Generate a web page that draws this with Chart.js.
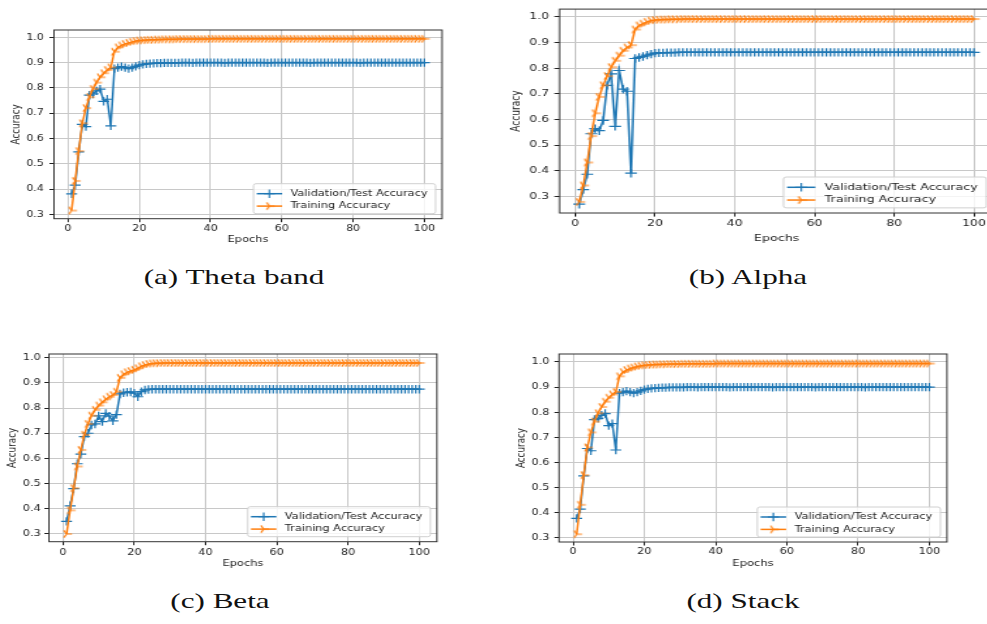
<!DOCTYPE html>
<html>
<head>
<meta charset="utf-8">
<script src="https://cdn.jsdelivr.net/npm/chart.js@4.4.1/dist/chart.umd.min.js"></script>
<style>
  html, body { margin: 0; padding: 0; background: #fff; }
  body { width: 987px; height: 624px; overflow: hidden; position: relative; }
  .panel { position: absolute; }
  .panel canvas { display: block; transform-origin: 0 0; }
  .cap {
    position: absolute; width: 300px; text-align: center; white-space: nowrap;
    font-family: "Liberation Serif", serif; font-size: 21px; line-height: 24px;
    color: #111; transform: scaleX(1.48);
  }
</style>
</head>
<body>
<div class="panel" style="left:0px;top:0px"><canvas id="theta" width="355" height="250"></canvas></div>
<div class="panel" style="left:500px;top:0px"><canvas id="alpha" width="365" height="250"></canvas></div>
<div class="panel" style="left:0px;top:324px"><canvas id="beta" width="350" height="250"></canvas></div>
<div class="panel" style="left:505px;top:324px"><canvas id="stack" width="352" height="250"></canvas></div>

<div class="cap" style="left:84px;top:265px">(a) Theta band</div>
<div class="cap" style="left:598px;top:265px">(b) Alpha</div>
<div class="cap" style="left:70px;top:589px">(c) Beta</div>
<div class="cap" style="left:593px;top:589px">(d) Stack</div>

<script>
// epochs 1..100
const epochs = Array.from({ length: 100 }, (_, i) => i + 1);
const xTicks = [0, 20, 40, 60, 80, 100];
const yTicks = [0.3, 0.4, 0.5, 0.6, 0.7, 0.8, 0.9, 1.0];
const seriesNames = ["Validation/Test Accuracy", "Training Accuracy"];

const thetaVal = [
  0.381, 0.415, 0.547, 0.656, 0.647, 0.771, 0.776, 0.788, 0.795, 0.747,
  0.755, 0.650, 0.876, 0.880, 0.884, 0.880, 0.876, 0.880, 0.885, 0.890,
  0.893, 0.895, 0.896, 0.897, 0.898, 0.898, 0.899, 0.899, 0.899, 0.899,
  0.899, 0.900, 0.900, 0.900, 0.899, 0.900, 0.900, 0.900, 0.900, 0.900,
  0.900, 0.900, 0.900, 0.899, 0.900, 0.900, 0.900, 0.900, 0.900, 0.900,
  0.900, 0.900, 0.900, 0.900, 0.900, 0.899, 0.900, 0.900, 0.900, 0.900,
  0.900, 0.900, 0.900, 0.900, 0.900, 0.900, 0.900, 0.899, 0.900, 0.900,
  0.900, 0.900, 0.900, 0.900, 0.900, 0.900, 0.900, 0.900, 0.900, 0.900,
  0.900, 0.899, 0.900, 0.900, 0.900, 0.900, 0.900, 0.900, 0.900, 0.900,
  0.900, 0.900, 0.900, 0.900, 0.900, 0.900, 0.900, 0.900, 0.900, 0.900
];
const thetaTrain = [
  0.315, 0.432, 0.550, 0.660, 0.720, 0.763, 0.796, 0.821, 0.842, 0.858,
  0.871, 0.881, 0.943, 0.960, 0.968, 0.974, 0.978, 0.982, 0.985, 0.987,
  0.988, 0.989, 0.990, 0.990, 0.991, 0.991, 0.992, 0.992, 0.992, 0.992,
  0.993, 0.993, 0.993, 0.993, 0.993, 0.993, 0.993, 0.993, 0.993, 0.994,
  0.994, 0.994, 0.994, 0.994, 0.994, 0.994, 0.994, 0.994, 0.994, 0.994,
  0.994, 0.994, 0.994, 0.994, 0.994, 0.994, 0.994, 0.994, 0.994, 0.994,
  0.994, 0.994, 0.994, 0.994, 0.994, 0.994, 0.994, 0.994, 0.994, 0.994,
  0.994, 0.994, 0.994, 0.994, 0.994, 0.994, 0.994, 0.994, 0.994, 0.994,
  0.994, 0.994, 0.994, 0.994, 0.994, 0.994, 0.994, 0.994, 0.994, 0.994,
  0.994, 0.994, 0.994, 0.994, 0.994, 0.994, 0.994, 0.994, 0.994, 0.994
];

const alphaVal = [
  0.269, 0.326, 0.386, 0.544, 0.564, 0.556, 0.596, 0.733, 0.778, 0.573,
  0.791, 0.718, 0.710, 0.390, 0.838, 0.842, 0.846, 0.851, 0.855, 0.859,
  0.860, 0.860, 0.861, 0.861, 0.861, 0.862, 0.862, 0.862, 0.862, 0.862,
  0.862, 0.862, 0.862, 0.862, 0.862, 0.862, 0.862, 0.862, 0.862, 0.862,
  0.862, 0.862, 0.862, 0.862, 0.862, 0.862, 0.862, 0.862, 0.862, 0.862,
  0.862, 0.862, 0.862, 0.862, 0.862, 0.862, 0.862, 0.862, 0.862, 0.862,
  0.862, 0.862, 0.862, 0.862, 0.862, 0.862, 0.862, 0.862, 0.862, 0.862,
  0.862, 0.862, 0.862, 0.862, 0.862, 0.862, 0.862, 0.862, 0.862, 0.862,
  0.862, 0.862, 0.862, 0.862, 0.862, 0.862, 0.862, 0.862, 0.862, 0.862,
  0.862, 0.862, 0.862, 0.862, 0.862, 0.862, 0.862, 0.862, 0.862, 0.862
];
const alphaTrain = [
  0.278, 0.342, 0.432, 0.535, 0.624, 0.688, 0.733, 0.769, 0.804, 0.829,
  0.849, 0.868, 0.881, 0.890, 0.951, 0.967, 0.974, 0.981, 0.986, 0.988,
  0.989, 0.990, 0.990, 0.991, 0.991, 0.991, 0.992, 0.992, 0.992, 0.992,
  0.992, 0.992, 0.992, 0.992, 0.992, 0.992, 0.992, 0.992, 0.992, 0.992,
  0.992, 0.992, 0.992, 0.992, 0.992, 0.992, 0.992, 0.992, 0.992, 0.992,
  0.992, 0.992, 0.992, 0.992, 0.992, 0.992, 0.992, 0.992, 0.992, 0.992,
  0.992, 0.992, 0.992, 0.992, 0.992, 0.992, 0.992, 0.992, 0.992, 0.992,
  0.992, 0.992, 0.992, 0.992, 0.992, 0.992, 0.992, 0.992, 0.992, 0.992,
  0.992, 0.992, 0.992, 0.992, 0.992, 0.992, 0.992, 0.992, 0.992, 0.992,
  0.992, 0.992, 0.992, 0.992, 0.992, 0.992, 0.992, 0.992, 0.992, 0.992
];

const betaVal = [
  0.350, 0.412, 0.480, 0.579, 0.617, 0.687, 0.700, 0.733, 0.737, 0.769,
  0.746, 0.779, 0.768, 0.749, 0.774, 0.856, 0.861, 0.863, 0.864, 0.859,
  0.845, 0.865, 0.872, 0.874, 0.875, 0.875, 0.875, 0.875, 0.875, 0.875,
  0.875, 0.875, 0.875, 0.875, 0.875, 0.875, 0.875, 0.875, 0.875, 0.875,
  0.875, 0.875, 0.875, 0.875, 0.875, 0.875, 0.875, 0.875, 0.875, 0.875,
  0.875, 0.875, 0.875, 0.875, 0.875, 0.875, 0.875, 0.875, 0.875, 0.875,
  0.875, 0.875, 0.875, 0.875, 0.875, 0.875, 0.875, 0.875, 0.875, 0.875,
  0.875, 0.875, 0.875, 0.875, 0.875, 0.875, 0.875, 0.875, 0.875, 0.875,
  0.875, 0.875, 0.875, 0.875, 0.875, 0.875, 0.875, 0.875, 0.875, 0.875,
  0.875, 0.875, 0.875, 0.875, 0.875, 0.875, 0.875, 0.875, 0.875, 0.875
];
const betaTrain = [
  0.300, 0.394, 0.482, 0.568, 0.634, 0.694, 0.737, 0.770, 0.793, 0.810,
  0.823, 0.835, 0.845, 0.852, 0.865, 0.920, 0.934, 0.942, 0.947, 0.952,
  0.958, 0.966, 0.971, 0.975, 0.977, 0.978, 0.978, 0.979, 0.979, 0.979,
  0.979, 0.979, 0.979, 0.979, 0.979, 0.979, 0.979, 0.979, 0.979, 0.979,
  0.979, 0.979, 0.979, 0.979, 0.979, 0.979, 0.979, 0.979, 0.979, 0.979,
  0.979, 0.979, 0.979, 0.979, 0.979, 0.979, 0.979, 0.979, 0.979, 0.979,
  0.979, 0.979, 0.979, 0.979, 0.979, 0.979, 0.979, 0.979, 0.979, 0.979,
  0.979, 0.979, 0.979, 0.979, 0.979, 0.979, 0.979, 0.979, 0.979, 0.979,
  0.979, 0.979, 0.979, 0.979, 0.979, 0.979, 0.979, 0.979, 0.979, 0.979,
  0.979, 0.979, 0.979, 0.979, 0.979, 0.979, 0.979, 0.979, 0.979, 0.979
];

const stackVal = [
  0.378, 0.415, 0.547, 0.656, 0.647, 0.771, 0.776, 0.788, 0.795, 0.747,
  0.755, 0.650, 0.876, 0.880, 0.884, 0.880, 0.876, 0.880, 0.885, 0.890,
  0.893, 0.895, 0.896, 0.897, 0.898, 0.898, 0.899, 0.899, 0.899, 0.899,
  0.899, 0.900, 0.900, 0.900, 0.899, 0.900, 0.900, 0.900, 0.900, 0.900,
  0.900, 0.900, 0.900, 0.899, 0.900, 0.900, 0.900, 0.900, 0.900, 0.900,
  0.900, 0.900, 0.900, 0.900, 0.900, 0.899, 0.900, 0.900, 0.900, 0.900,
  0.900, 0.900, 0.900, 0.900, 0.900, 0.900, 0.900, 0.899, 0.900, 0.900,
  0.900, 0.900, 0.900, 0.900, 0.900, 0.900, 0.900, 0.900, 0.900, 0.900,
  0.900, 0.899, 0.900, 0.900, 0.900, 0.900, 0.900, 0.900, 0.900, 0.900,
  0.900, 0.900, 0.900, 0.900, 0.900, 0.900, 0.900, 0.900, 0.900, 0.900
];
const stackTrain = [
  0.315, 0.432, 0.550, 0.660, 0.720, 0.763, 0.796, 0.821, 0.842, 0.858,
  0.871, 0.881, 0.943, 0.960, 0.968, 0.974, 0.978, 0.982, 0.985, 0.987,
  0.988, 0.989, 0.990, 0.990, 0.991, 0.991, 0.992, 0.992, 0.992, 0.992,
  0.993, 0.993, 0.993, 0.993, 0.993, 0.993, 0.993, 0.993, 0.993, 0.994,
  0.994, 0.994, 0.994, 0.994, 0.994, 0.994, 0.994, 0.994, 0.994, 0.994,
  0.994, 0.994, 0.994, 0.994, 0.994, 0.994, 0.994, 0.994, 0.994, 0.994,
  0.994, 0.994, 0.994, 0.994, 0.994, 0.994, 0.994, 0.994, 0.994, 0.994,
  0.994, 0.994, 0.994, 0.994, 0.994, 0.994, 0.994, 0.994, 0.994, 0.994,
  0.994, 0.994, 0.994, 0.994, 0.994, 0.994, 0.994, 0.994, 0.994, 0.994,
  0.994, 0.994, 0.994, 0.994, 0.994, 0.994, 0.994, 0.994, 0.994, 0.994
];

const BLUE = "#1f77b4";
const ORANGE = "#ff7f0e";

Chart.defaults.font.family = "'DejaVu Sans', sans-serif";
Chart.defaults.color = "#222";

// matplotlib style "4" (tri_right) marker
function triRight(r, color) {
  const size = Math.ceil(r * 2 + 3);
  const c = document.createElement("canvas");
  c.width = size;
  c.height = size;
  const ctx = c.getContext("2d");
  const m = size / 2;
  ctx.strokeStyle = color;
  ctx.lineWidth = 1.2;
  ctx.beginPath();
  [0, 120, 240].forEach((deg) => {
    const t = (deg * Math.PI) / 180;
    ctx.moveTo(m, m);
    ctx.lineTo(m + r * Math.cos(t), m - r * Math.sin(t));
  });
  ctx.stroke();
  return c;
}

// axes frame + legend box in lower right, like matplotlib
const framePlugin = {
  id: "frame",
  afterDraw(chart, args, opts) {
    const { ctx, chartArea: a } = chart;
    const v = opts.v;
    ctx.save();
    ctx.strokeStyle = "#333";
    ctx.lineWidth = 1;
    ctx.strokeRect(a.left, a.top, a.right - a.left, a.bottom - a.top);

    const w = 140 * v, h = 30 * v;
    const bx = a.right - 5 * v - w;
    const by = a.bottom - 5 * v - h;
    ctx.beginPath();
    ctx.roundRect(bx, by, w, h, 2);
    ctx.fillStyle = "rgba(255,255,255,0.8)";
    ctx.fill();
    ctx.strokeStyle = "#d0d0d0";
    ctx.stroke();

    const rows = [10 * v, 22.4 * v];
    chart.data.datasets.forEach((ds, i) => {
      const y = by + rows[i];
      const x0 = bx + 2.5 * v, x1 = bx + 22 * v, xm = (x0 + x1) / 2;
      ctx.strokeStyle = ds.borderColor;
      ctx.lineWidth = ds.borderWidth;
      ctx.beginPath();
      ctx.moveTo(x0, y);
      ctx.lineTo(x1, y);
      ctx.stroke();
      if (ds.pointStyle === "cross") {
        const r = ds.pointRadius;
        ctx.lineWidth = ds.pointBorderWidth;
        ctx.beginPath();
        ctx.moveTo(xm - r, y); ctx.lineTo(xm + r, y);
        ctx.moveTo(xm, y - r); ctx.lineTo(xm, y + r);
        ctx.stroke();
      } else {
        const img = ds.pointStyle;
        ctx.drawImage(img, xm - img.width / 2, y - img.height / 2);
      }
      ctx.fillStyle = "#222";
      ctx.font = (8.7 * v) + "px 'DejaVu Sans', sans-serif";
      ctx.textBaseline = "middle";
      ctx.textAlign = "left";
      ctx.fillText(ds.label, bx + 28.5 * v, y);
    });
    ctx.restore();
  }
};

function makePanel(id, p, val, train) {
  const el = document.getElementById(id);
  el.style.transform = "scaleX(" + p.s + ")";
  const v = p.v;
  return new Chart(el, {
    type: "line",
    data: {
      datasets: [
        {
          label: seriesNames[0],
          data: epochs.map((e, i) => ({ x: e, y: val[i] })),
          borderColor: BLUE,
          borderWidth: 1.5,
          pointStyle: "cross",
          pointRadius: 4.2,
          pointBorderColor: BLUE,
          pointBorderWidth: 1.2,
          fill: false,
          tension: 0,
          order: 1
        },
        {
          label: seriesNames[1],
          data: epochs.map((e, i) => ({ x: e, y: train[i] })),
          borderColor: ORANGE,
          borderWidth: 1.5,
          pointStyle: triRight(4.2, ORANGE),
          pointRadius: 4.2,
          fill: false,
          tension: 0,
          order: 0
        }
      ]
    },
    options: {
      responsive: false,
      animation: false,
      devicePixelRatio: 1,
      layout: { padding: { left: 0, top: p.top, right: p.right, bottom: 0 } },
      plugins: {
        legend: { display: false },
        tooltip: { enabled: false },
        frame: { v: v }
      },
      scales: {
        x: {
          type: "linear",
          min: -3.95,
          max: 104.95,
          bounds: "data",
          afterBuildTicks: (s) => { s.ticks = xTicks.map((t) => ({ value: t })); },
          afterFit: (s) => { s.height = p.xh; },
          border: { display: false },
          grid: { color: "#c8c8c8", lineWidth: 1, tickLength: 3.5 * v, tickColor: "#222" },
          ticks: {
            font: { size: 8.6 * v },
            padding: p.xtp,
            maxRotation: 0,
            autoSkip: false,
            callback: (t) => String(t)
          },
          title: {
            display: true,
            text: "Epochs",
            font: { size: 8.8 * v },
            padding: { top: 0, bottom: p.xpb }
          }
        },
        y: {
          min: p.ymin,
          max: p.ymax,
          bounds: "data",
          afterBuildTicks: (s) => { s.ticks = yTicks.map((t) => ({ value: t })); },
          afterFit: (s) => { s.width = p.yw; },
          border: { display: false },
          grid: { color: "#c8c8c8", lineWidth: 1, tickLength: 3.5 * v, tickColor: "#222" },
          ticks: {
            font: { size: 8.6 * v },
            padding: p.ytp,
            callback: (t) => t.toFixed(1)
          },
          title: {
            display: true,
            text: "Accuracy",
            font: { size: 8.8 * v },
            padding: { top: p.ypt, bottom: 0 }
          }
        }
      }
    },
    plugins: [framePlugin]
  });
}

makePanel("theta", { s: 1.3, v: 1, top: 30, right: 15, xh: 31.3, yw: 41.5,
  ymin: 0.2826, ymax: 1.0289, xtp: 1, xpb: 4.7, ytp: 4.2, ypt: 7.8 }, thetaVal, thetaTrain);
makePanel("alpha", { s: 1.41, v: 1.028, top: 6, right: 14.9, xh: 37, yw: 42.2,
  ymin: 0.2346, ymax: 1.0308, xtp: 2.2, xpb: 5.6, ytp: 3.8, ypt: 5.9 }, alphaVal, alphaTrain);
makePanel("beta", { s: 1.305, v: 1, top: 30, right: 15.2, xh: 32.3, yw: 37.5,
  ymin: 0.2694, ymax: 1.0147, xtp: 2.3, xpb: 4.7, ytp: 2.8, ypt: 4.9 }, betaVal, betaTrain);
makePanel("stack", { s: 1.308, v: 1, top: 30, right: 14.1, xh: 32, yw: 41.3,
  ymin: 0.284, ymax: 1.0318, xtp: 1.6, xpb: 4.7, ytp: 3.9, ypt: 7.9 }, stackVal, stackTrain);
</script>
</body>
</html>
